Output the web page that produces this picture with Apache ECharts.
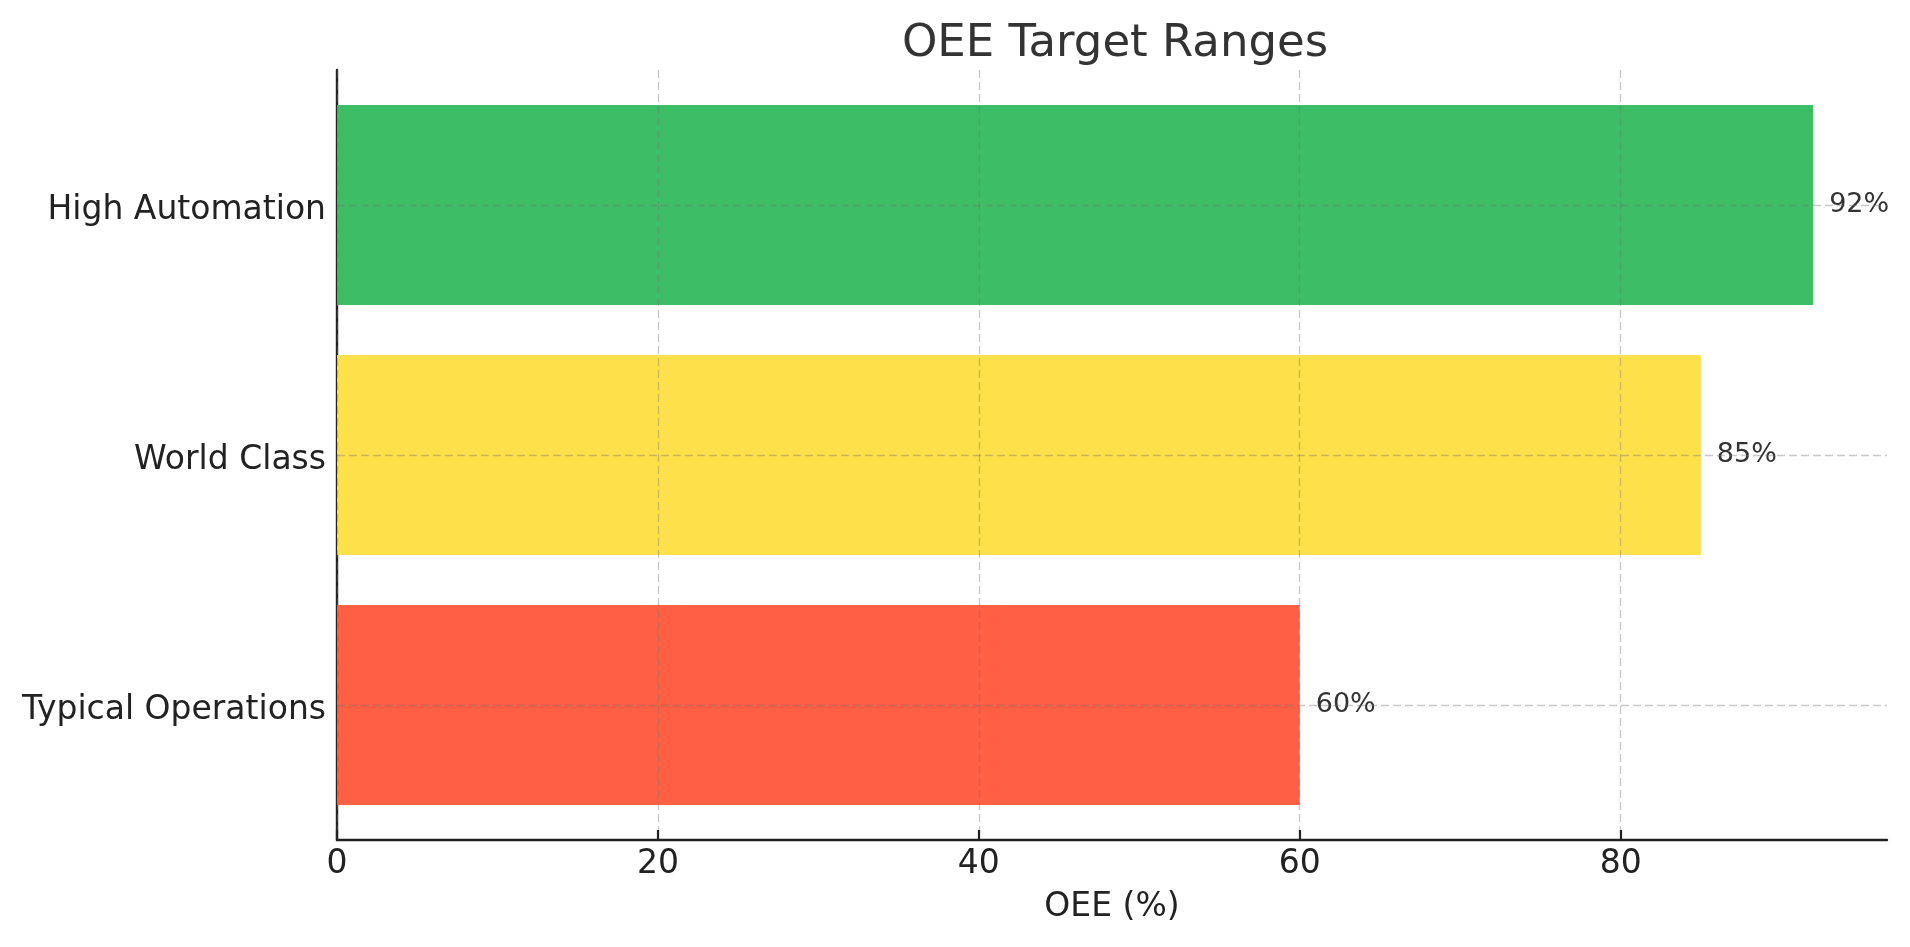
<!DOCTYPE html>
<html>
<head>
<meta charset="utf-8">
<script src="https://cdn.jsdelivr.net/npm/echarts@6/dist/echarts.min.js"></script>
<style>html,body{margin:0;padding:0;background:#fff}#c{width:1910px;height:947px}</style>
</head>
<body>
<div id="c"></div>
<script>
const categories = ['Typical Operations', 'World Class', 'High Automation'];
const values = [60, 85, 92];
const colors = ['#ff5f43', '#fee14a', '#3dbe66'];
const xTicks = [0, 20, 40, 60, 80];
const xMax = 96.6;

const font = 'DejaVu Sans';
const gridLine = { color: 'rgba(110,110,110,0.38)', width: 1.3, type: [8, 4] };

const chart = echarts.init(document.getElementById('c'));
chart.setOption({
  backgroundColor: '#fff',
  animation: false,
  title: {
    text: 'OEE Target Ranges',
    left: 1110, top: 17, textAlign: 'center',
    textStyle: { fontFamily: font, fontSize: 45, fontWeight: 'normal', color: '#333' }
  },
  grid: [
    { left: 337, right: 23, top: 70, bottom: 107 },
    { left: 337, right: 23, top: 80, bottom: 117 }
  ],
  xAxis: [
    {
      gridIndex: 0, type: 'value', min: 0, max: xMax, z: 5,
      name: 'OEE (%)', nameLocation: 'middle', nameGap: 51,
      nameTextStyle: { fontFamily: font, fontSize: 33, color: '#222' },
      axisLine: { show: true, lineStyle: { color: '#222', width: 2.4 } },
      axisTick: { show: true, inside: true, length: 10, lineStyle: { color: '#222', width: 2.2 }, customValues: xTicks },
      axisLabel: { fontFamily: font, fontSize: 33, color: '#222', margin: 8, customValues: xTicks },
      splitLine: { show: true, lineStyle: gridLine }
    },
    { gridIndex: 1, type: 'value', min: 0, max: xMax, show: false }
  ],
  yAxis: [
    {
      gridIndex: 0, type: 'value', min: 0, max: 1,
      axisLine: { show: true, lineStyle: { color: '#222', width: 2.4 } },
      axisTick: { show: false }, axisLabel: { show: false }, splitLine: { show: false }
    },
    {
      gridIndex: 1, type: 'category', data: categories,
      axisLine: { show: false },
      axisTick: { show: true, inside: true, alignWithLabel: true, length: 10, lineStyle: { color: '#222', width: 2.5 } },
      axisLabel: {
        margin: 11,
        formatter: v => '{v|' + v + '}',
        rich: { v: { fontFamily: font, fontSize: 33, color: '#222', padding: [10, 0, 0, 0] } }
      },
      splitLine: { show: false }
    }
  ],
  series: [{
    type: 'bar',
    xAxisIndex: 1, yAxisIndex: 1,
    barWidth: 200,
    data: values.map((v, i) => ({ value: v, itemStyle: { color: colors[i] } })),
    label: {
      show: true, position: 'right', distance: 16,
      formatter: '{c}%',
      fontFamily: font, fontSize: 27, color: '#333'
    },
    markLine: {
      silent: true, symbol: 'none', label: { show: false },
      lineStyle: gridLine,
      data: categories.map(c => ({ yAxis: c }))
    }
  }]
});
</script>
</body>
</html>
